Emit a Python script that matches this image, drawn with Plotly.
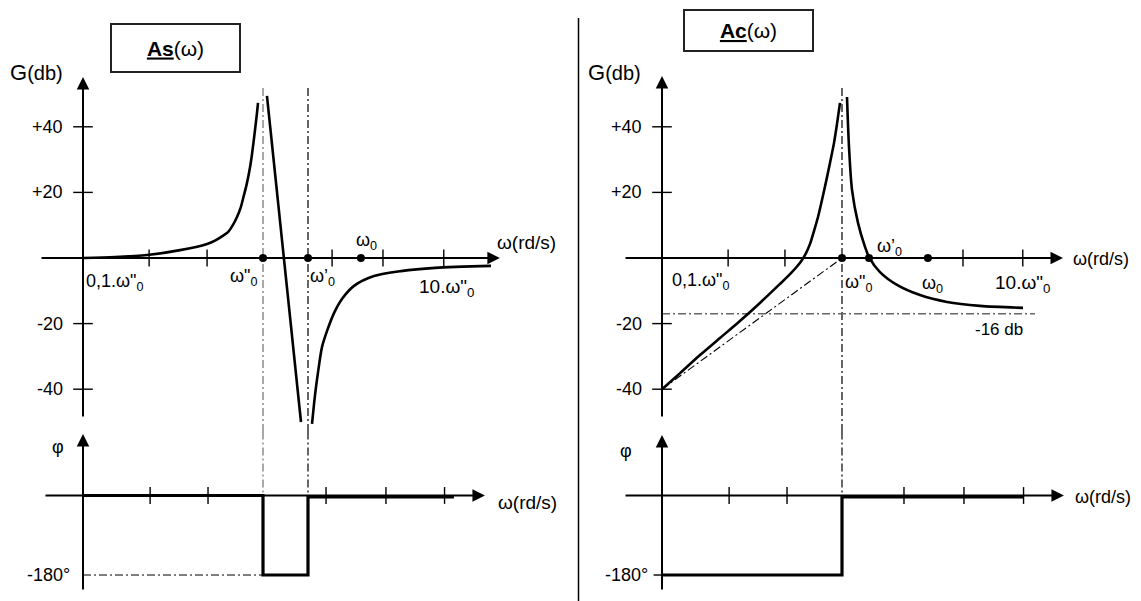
import numpy as np
import plotly.graph_objects as go

W, H = 1141, 601
OFF = 8                      # page margin of the browser
FW, FH = W - OFF, H - OFF    # figure size
FONT = "Arial, 'Liberation Sans', sans-serif"

# ---------------- data (frequencies normalised to ω''0) ----------------
# As(ω) gain, three branches
as_rise_w = [0.10, 0.1507, 0.227, 0.346, 0.489, 0.541, 0.592, 0.639, 0.681, 0.717, 0.750,
             0.779, 0.810, 0.836, 0.863, 0.885, 0.908, 0.926, 0.938]
as_rise_db = [0.0, 0.3, 0.9, 2.4, 4.3, 5.3, 6.6, 7.9, 10.1, 12.5, 15.2,
              18.6, 22.3, 25.9, 30.5, 35.1, 40.2, 44.2, 47.3]
as_drop_w = [1.052, 1.626]
as_drop_db = [49.4, -50.0]
as_tail_w = [1.872, 1.945, 2.022, 2.128, 2.267, 2.480, 2.746, 3.204, 4.138, 5.843, 9.03, 18.48]
as_tail_db = [-50.6, -41.8, -34.8, -27.1, -22.3, -16.8, -12.5, -8.5, -5.5, -4.0, -3.0, -2.4]

# Ac(ω) gain, two branches
ac_rise_w = [0.10, 0.126, 0.1626, 0.210, 0.271, 0.350, 0.4523, 0.5143, 0.5623, 0.5995,
             0.6310, 0.6643, 0.6988, 0.7356, 0.7743, 0.8149, 0.8577, 0.9029, 0.9380, 0.9747]
ac_rise_db = [-40.0, -35.1, -29.6, -24.4, -19.2, -13.7, -7.9, -4.9, -2.6, -0.6,
              1.5, 4.3, 8.2, 12.5, 17.7, 23.2, 29.0, 35.1, 40.9, 47.3]
ac_fall_w = [1.066, 1.094, 1.137, 1.227, 1.342, 1.413, 1.626, 2.021, 2.712, 3.831, 5.843, 10.13]
ac_fall_db = [49.1, 33.8, 20.7, 10.7, 3.4, 0.3, -4.3, -8.2, -11.3, -13.4, -14.6, -15.2]
ac_asym_w = [0.1, 1.0]
ac_asym_db = [-40, 0]
ac_limit_w = [0.1, 11.8]
ac_limit_db = [-17, -17]

# phases (degrees)
as_phase_w = [0.1, 1.0, 1.0, 1.778, 1.778, 11.5]
as_phase_deg = [0, 0, -180, -180, -3, -3]
ac_phase_w = [0.1, 1.0, 1.0, 10.26]
ac_phase_deg = [-180, -180, -3, -3]
as_m180_w = [0.1, 1.0]
as_m180_deg = [-180, -180]

# remarkable pulsations (ω''0, ω'0, ω0)
as_marks_w = [1.0, 1.778, 3.5]
ac_marks_w = [1.0, 1.413, 3.0]

# tick positions
as_gain_ticks_w = [0.233, 0.489, 2.42, 4.64, 10.1]
as_phase_ticks_w = [0.236, 0.495, 2.24, 4.82, 10.2]
ac_gain_ticks_w = [0.233, 0.482, 4.70, 10.1]
ac_phase_ticks_w = [0.236, 0.495, 2.21, 4.76, 10.2]
gain_ticks_db = [40, 20, -20, -40]
gain_tick_labels = ["+40", "+20", "-20", "-40"]

# axis extents: (w_min, w_max) for frequency axes, (min, max) for vertical axes
as_gain_xaxis = [0.0577, 20.7]
as_gain_yaxis = [-48.8, 55.2]
as_phase_xaxis = [0.0607, 17.1]
as_phase_yaxis = [-216, 139]
ac_gain_xaxis = [0.0615, 16.9]
ac_gain_yaxis = [-48.8, 55.5]
ac_phase_xaxis = [0.0615, 17.1]
ac_phase_yaxis = [-216, 137]
guide_top_db = 51.8

# ---------------- layout geometry (page pixels) ----------------
def xdom(p0, p1):
    return [(p0 - OFF) / FW, (p1 - OFF) / FW]

def ydom(ptop, pbot):
    return [1 - (pbot - OFF) / FH, 1 - (ptop - OFF) / FH]

def px(p):
    return (p - OFF) / FW

def py(p):
    return 1 - (p - OFF) / FH

DEC = 180.0
L_ORIG, R_ORIG = 263, 842
GAIN_ZERO, DB_PX = 258, 3.28
PH_ZERO, DEG_PX = 495.5, 0.4417
SPLIT = 432

gain_range = [(GAIN_ZERO - SPLIT) / DB_PX, (GAIN_ZERO - 65) / DB_PX]
phase_range = [(PH_ZERO - H) / DEG_PX, (PH_ZERO - SPLIT) / DEG_PX]
lx_range = [(30 - L_ORIG) / DEC, (510 - L_ORIG) / DEC]
rx_range = [(610 - R_ORIG) / DEC, (1090 - R_ORIG) / DEC]

fig = go.Figure()

DASHDOT = "8px,3px,2px,3px"


def line(x, y, xa, ya, width=2.6, color="black", dash="solid", shape="linear", smooth=0.8):
    fig.add_trace(go.Scatter(x=x, y=y, xaxis=xa, yaxis=ya, mode="lines",
                             line=dict(color=color, width=width, dash=dash, shape=shape,
                                       smoothing=smooth),
                             hoverinfo="skip", showlegend=False))


def marks(x, y, xa, ya, symbol, size, width=1.4):
    fig.add_trace(go.Scatter(x=x, y=y, xaxis=xa, yaxis=ya, mode="markers",
                             marker=dict(symbol=symbol, size=size, color="black",
                                         line=dict(color="black", width=width)),
                             hoverinfo="skip", showlegend=False))


# guide lines (dash-dot)
line([1.0, 1.0], [guide_top_db, gain_range[0] - 1], "x", "y", 1.3, "#7a7a7a", DASHDOT)
line([1.0, 1.0], [phase_range[1] + 1, -180], "x2", "y2", 1.3, "#7a7a7a", DASHDOT)
line([as_marks_w[1]] * 2, [guide_top_db, gain_range[0] - 1], "x", "y", 1.2, "black", DASHDOT)
line([as_marks_w[1]] * 2, [phase_range[1] + 1, 0], "x2", "y2", 1.2, "black", DASHDOT)
line(as_m180_w, as_m180_deg, "x2", "y2", 1.1, "black", DASHDOT)

line([1.0, 1.0], [guide_top_db, gain_range[0] - 1], "x3", "y3", 1.2, "black", DASHDOT)
line([1.0, 1.0], [phase_range[1] + 1, 0], "x4", "y4", 1.2, "black", DASHDOT)
line(ac_asym_w, ac_asym_db, "x3", "y3", 1.1, "black", DASHDOT)
line(ac_limit_w, ac_limit_db, "x3", "y3", 1.3, "#666666", DASHDOT)

# curves
line(as_rise_w, as_rise_db, "x", "y", shape="spline")
line(as_drop_w, as_drop_db, "x", "y")
line(as_tail_w, as_tail_db, "x", "y", shape="spline")
line(ac_rise_w, ac_rise_db, "x3", "y3", shape="spline")
line(ac_fall_w, ac_fall_db, "x3", "y3", shape="spline")

line(as_phase_w, as_phase_deg, "x2", "y2", 3.2)
line(ac_phase_w, ac_phase_deg, "x4", "y4", 3.2)

# ticks
marks(as_gain_ticks_w, [0] * len(as_gain_ticks_w), "x", "y", "line-ns", 12)
marks(as_phase_ticks_w, [0] * len(as_phase_ticks_w), "x2", "y2", "line-ns", 12)
marks(ac_gain_ticks_w, [0] * len(ac_gain_ticks_w), "x3", "y3", "line-ns", 12)
marks(ac_phase_ticks_w, [0] * len(ac_phase_ticks_w), "x4", "y4", "line-ns", 12)
marks([0.1] * 4, gain_ticks_db, "x", "y", "line-ew", 14)
marks([0.1] * 4, gain_ticks_db, "x3", "y3", "line-ew", 14)
marks([0.1], [-180], "x4", "y4", "line-ew", 12)

# remarkable points
marks(as_marks_w, [0] * 3, "x", "y", "circle", 8, 0)
marks(ac_marks_w, [0] * 3, "x3", "y3", "circle", 8, 0)

anns = []


def arrow(xr, yr, x0, y0, x1, y1):
    anns.append(dict(xref=xr, yref=yr, axref=xr, ayref=yr,
                     x=np.log10(x1), y=y1, ax=np.log10(x0), ay=y0, text="",
                     showarrow=True, arrowhead=2, arrowsize=1.25, arrowwidth=2,
                     arrowcolor="black", standoff=0))


def text(t, xr, yr, x, y, size=18, xanchor="center", yanchor="middle", xshift=0, yshift=0):
    anns.append(dict(text=t, xref=xr, yref=yr,
                     x=np.log10(x) if xr != "paper" else x, y=y, showarrow=False,
                     font=dict(size=size, family=FONT, color="black"),
                     xanchor=xanchor, yanchor=yanchor, xshift=xshift, yshift=yshift))


# axes with arrowheads
arrow("x", "y", 0.1, as_gain_yaxis[0], 0.1, as_gain_yaxis[1])
arrow("x", "y", as_gain_xaxis[0], 0, as_gain_xaxis[1], 0)
arrow("x2", "y2", 0.1, as_phase_yaxis[0], 0.1, as_phase_yaxis[1])
arrow("x2", "y2", as_phase_xaxis[0], 0, as_phase_xaxis[1], 0)
arrow("x3", "y3", 0.1, ac_gain_yaxis[0], 0.1, ac_gain_yaxis[1])
arrow("x3", "y3", ac_gain_xaxis[0], 0, ac_gain_xaxis[1], 0)
arrow("x4", "y4", 0.1, ac_phase_yaxis[0], 0.1, ac_phase_yaxis[1])
arrow("x4", "y4", ac_phase_xaxis[0], 0, ac_phase_xaxis[1], 0)

W2 = 'ω"<sub>0</sub>'
GDB = "G<span style='font-size:20px'>(db)</span>"
# ---- tick labels on gain axes ----
for db, lab in zip(gain_ticks_db, gain_tick_labels):
    text(lab, "x", "y", 0.1, db, xanchor="right", xshift=-18)
    text(lab, "x3", "y3", 0.1, db, xanchor="right", xshift=-18)

# ---- left panel labels ----
text(GDB, "x", "y", 0.1, as_gain_yaxis[1], 22, xshift=-47, yshift=4)
text("0,1." + W2, "x", "y", 0.1, 0, xanchor="left", xshift=1, yshift=-24)
text(W2, "x", "y", 1.0, 0, xshift=-20, yshift=-19)
text("ω’<sub>0</sub>", "x", "y", as_marks_w[1], 0, xshift=15, yshift=-19)
text("ω<sub>0</sub>", "x", "y", as_marks_w[2], 0, xshift=6, yshift=17)
text("10." + W2, "x", "y", 10, 0, 19, xshift=3, yshift=-30)
text("ω(rd/s)", "x", "y", as_gain_xaxis[1], 0, 19, xanchor="left", xshift=-5, yshift=16)
text("φ", "x2", "y2", 0.1, as_phase_yaxis[1], 18, xshift=-25, yshift=-13)
text("-180°", "x2", "y2", 0.1, -180, 18, xanchor="right", xshift=-11)
text("ω(rd/s)", "x2", "y2", as_phase_xaxis[1], 0, 19, xanchor="left", xshift=11, yshift=-7)

# ---- right panel labels ----
text(GDB, "x3", "y3", 0.1, ac_gain_yaxis[1], 22, xshift=-48, yshift=3)
text("0,1." + W2, "x3", "y3", 0.1, 0, xanchor="left", xshift=8, yshift=-23)
text(W2, "x3", "y3", 1.0, 0, xanchor="left", xshift=1, yshift=-25)
text("ω’<sub>0</sub>", "x3", "y3", ac_marks_w[1], 0, xanchor="left", xshift=6, yshift=11)
text("ω<sub>0</sub>", "x3", "y3", ac_marks_w[2], 0, xshift=5, yshift=-26)
text("10." + W2, "x3", "y3", 10, 0, 19, xshift=0, yshift=-26)
text("ω(rd/s)", "x3", "y3", ac_gain_xaxis[1], 0, 18, xanchor="left", xshift=8, yshift=-1)
text("-16 db", "x3", "y3", 7.45, ac_limit_db[0], 17, yshift=-16)
text("φ", "x4", "y4", 0.1, ac_phase_yaxis[1], 18, xshift=-36, yshift=-16)
text("-180°", "x4", "y4", 0.1, -180, 18, xanchor="right", xshift=-12)
text("ω(rd/s)", "x4", "y4", ac_phase_xaxis[1], 0, 18, xanchor="left", xshift=9, yshift=-1)

# title boxes (centre x, centre y, height in page pixels)
for t, cx, cy, hh in [("<b><u>As</u></b>(ω)", 175.5, 47.5, 46),
                      ("<b><u>Ac</u></b>(ω)", 748.5, 31, 39)]:
    anns.append(dict(text=t, xref="paper", yref="paper", x=px(cx), y=py(cy), showarrow=False,
                     font=dict(size=21, family=FONT, color="black"),
                     width=127, height=hh, borderpad=0, borderwidth=2,
                     bordercolor="#222222", xanchor="center", yanchor="middle"))

ax_common = dict(visible=False, showgrid=False, zeroline=False, fixedrange=True)
fig.update_layout(
    width=FW, height=FH, margin=dict(l=0, r=0, t=0, b=0),
    paper_bgcolor="white", plot_bgcolor="rgba(0,0,0,0)",
    showlegend=False, annotations=anns,
    xaxis=dict(domain=xdom(30, 510), type="log", range=lx_range, anchor="y", **ax_common),
    yaxis=dict(domain=ydom(65, SPLIT), range=gain_range, anchor="x", **ax_common),
    xaxis2=dict(domain=xdom(30, 510), type="log", range=lx_range, anchor="y2", **ax_common),
    yaxis2=dict(domain=ydom(SPLIT, H), range=phase_range, anchor="x2", **ax_common),
    xaxis3=dict(domain=xdom(610, 1090), type="log", range=rx_range, anchor="y3", **ax_common),
    yaxis3=dict(domain=ydom(65, SPLIT), range=gain_range, anchor="x3", **ax_common),
    xaxis4=dict(domain=xdom(610, 1090), type="log", range=rx_range, anchor="y4", **ax_common),
    yaxis4=dict(domain=ydom(SPLIT, H), range=phase_range, anchor="x4", **ax_common),
    shapes=[dict(type="line", xref="paper", yref="paper", x0=px(578.5), x1=px(578.5),
                 y0=0, y1=py(18), line=dict(color="black", width=1.5))],
)

fig.write_html("out.html")
